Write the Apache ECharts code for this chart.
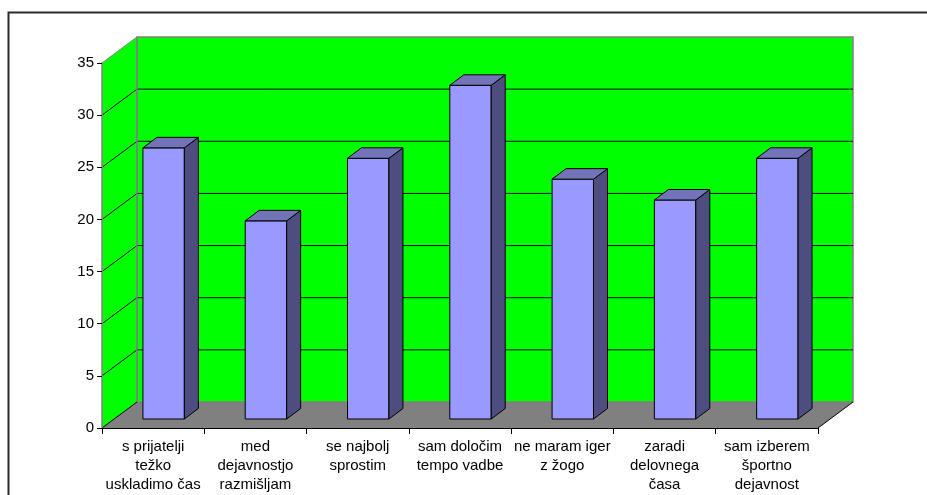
<!DOCTYPE html>
<html><head><meta charset="utf-8">
<script src="https://cdn.jsdelivr.net/npm/echarts@6/dist/echarts.min.js"></script>
<style>html,body{margin:0;padding:0;background:#fff}#c{width:927px;height:495px}</style>
</head><body><div id="c"></div>
<script>
const categories = [
  's prijatelji\ntežko\nuskladimo čas',
  'med\ndejavnostjo\nrazmišljam',
  'se najbolj\nsprostim',
  'sam določim\ntempo vadbe',
  'ne maram iger\nz žogo',
  'zaradi\ndelovnega\nčasa',
  'sam izberem\nšportno\ndejavnost'
];
const values = [26, 19, 25, 32, 23, 21, 25];
const yTicks = [0, 5, 10, 15, 20, 25, 30, 35];

// depth geometry (pixels)
const DX = 35, DY = -26;
const FRONT_DX = 10.5, FRONT_DY = -9;
const SIDE_DX = 14, SIDE_DY = -10.5;

const chart = echarts.init(document.getElementById('c'), null, {renderer: 'canvas'});

function wallsRender(params, api) {
  const cs = params.coordSys;
  const x0 = cs.x, x1 = cs.x + cs.width;
  const yTop = api.coord([0, yTicks[yTicks.length - 1]])[1];
  const yBot = api.coord([0, 0])[1];
  const children = [];
  children.push({type: 'polygon', shape: {points: [[x0, yTop], [x0 + DX, yTop + DY], [x0 + DX, yBot + DY], [x0, yBot]]},
    style: {fill: '#00FF00', stroke: null}});
  children.push({type: 'rect', shape: {x: x0 + DX, y: yTop + DY, width: cs.width, height: yBot - yTop},
    style: {fill: '#00FF00', stroke: '#808080', lineWidth: 1.5}});
  children.push({type: 'polygon', shape: {points: [[x0, yBot], [x0 + DX, yBot + DY], [x1 + DX, yBot + DY], [x1, yBot]]},
    style: {fill: '#808080', stroke: null}});
  yTicks.forEach(function (v) {
    const y = api.coord([0, v])[1];
    const top = v === yTicks[yTicks.length - 1];
    const col = top ? '#808080' : '#000';
    if (v !== 0 && !top) {
      children.push({type: 'line', shape: {x1: x0 + DX, y1: y + DY, x2: x1 + DX, y2: y + DY}, style: {stroke: '#000', lineWidth: 1}});
    }
    children.push({type: 'line', shape: {x1: x0, y1: y, x2: x0 + DX, y2: y + DY}, style: {stroke: col, lineWidth: 1}});
  });
  children.push({type: 'line', shape: {x1: x0 + DX, y1: yTop + DY, x2: x0 + DX, y2: yBot + DY}, style: {stroke: '#808080', lineWidth: 1.5}});
  children.push({type: 'line', shape: {x1: x1, y1: yBot, x2: x1 + DX, y2: yBot + DY}, style: {stroke: '#000', lineWidth: 1}});
  return {type: 'group', children: children};
}

function barRender(params, api) {
  const idx = api.value(0);
  const base = api.coord([idx, 0]);
  const top = api.coord([idx, api.value(1)]);
  const band = api.size([1, 0])[0];
  const w = band * 0.405;
  const cx = base[0] + FRONT_DX;
  const l = cx - w / 2, r = cx + w / 2;
  const b = base[1] + FRONT_DY, t = top[1] + FRONT_DY;
  const st = {stroke: '#000', lineWidth: 1, lineJoin: 'round'};
  return {type: 'group', children: [
    {type: 'polygon', shape: {points: [[l, b], [l, t], [r, t], [r, b]]}, style: Object.assign({fill: '#9999FF'}, st)},
    {type: 'polygon', shape: {points: [[r, b], [r, t], [r + SIDE_DX, t + SIDE_DY], [r + SIDE_DX, b + SIDE_DY]]}, style: Object.assign({fill: '#4D4D80'}, st)},
    {type: 'polygon', shape: {points: [[l, t], [l + SIDE_DX, t + SIDE_DY], [r + SIDE_DX, t + SIDE_DY], [r, t]]}, style: Object.assign({fill: '#7373BA'}, st)}
  ]};
}

chart.setOption({
  animation: false,
  backgroundColor: '#fff',
  grid: {left: 102, right: 109, top: 63, bottom: 67, containLabel: false},
  graphic: [{type: 'rect', shape: {x: 8.5, y: 12.5, width: 1000, height: 600}, style: {fill: null, stroke: '#2b2b2b', lineWidth: 2}, z: 100}],
  xAxis: {
    type: 'category', data: categories, boundaryGap: true,
    axisLine: {show: true, lineStyle: {color: '#000', width: 1}},
    axisTick: {show: true, length: 6, alignWithLabel: false, lineStyle: {color: '#000'}},
    axisLabel: {interval: 0, color: '#000', fontFamily: 'Liberation Sans, Arial, sans-serif', fontSize: 15, lineHeight: 19, margin: 9},
    splitLine: {show: false}, z: 10
  },
  yAxis: {
    type: 'value', min: 0, max: 35, interval: 5,
    axisLine: {show: true, lineStyle: {color: '#808080', width: 1.5}},
    axisTick: {show: true, length: 5, lineStyle: {color: '#000'}},
    axisLabel: {color: '#000', fontFamily: 'Liberation Sans, Arial, sans-serif', fontSize: 15, margin: 8},
    splitLine: {show: false}, z: 10
  },
  series: [
    {type: 'custom', data: [[0, 0]], renderItem: wallsRender, z: 1, silent: true},
    {type: 'custom', data: values.map(function (v, i) { return [i, v]; }), renderItem: barRender, z: 5}
  ]
});
</script></body></html>
